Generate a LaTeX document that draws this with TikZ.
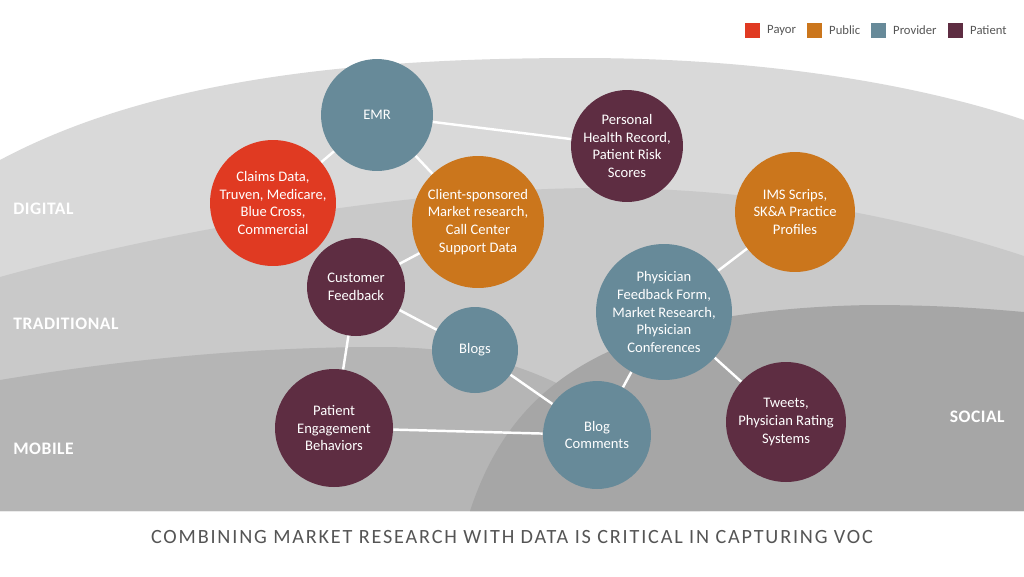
\documentclass[tikz,border=0pt]{standalone}
\usepackage{fontspec}
\setmainfont{Carlito}
\usepackage{xcolor}
\usepackage{tikz}
\usetikzlibrary{positioning}
\definecolor{payorred}{HTML}{E03A22}
\definecolor{publicorange}{HTML}{CB761C}
\definecolor{providerblue}{HTML}{678A99}
\definecolor{patientplum}{HTML}{5E2D42}
\definecolor{digitalgray}{HTML}{D9D9D9}
\definecolor{tradgray}{HTML}{C9C9C9}
\definecolor{mobilegray}{HTML}{B5B5B5}
\definecolor{socialgray}{HTML}{A6A6A6}
\definecolor{inkgray}{HTML}{555555}

\begin{document}
\begin{tikzpicture}[x=0.02cm,y=-0.02cm,
	blob/.style={circle,inner sep=0pt,text=white,align=center,font=\fontsize{8.3}{10.2}\selectfont},
	payor/.style={blob,fill=payorred},
	public/.style={blob,fill=publicorange},
	provider/.style={blob,fill=providerblue},
	patient/.style={blob,fill=patientplum},
	link/.style={white,line width=1.4pt},
	zone/.style={text=white,inner sep=0pt,font=\fontsize{10}{12}\selectfont\bfseries\addfontfeatures{LetterSpace=3}},
	keybox/.style={minimum size=0.3cm,inner sep=0pt},
	keytext/.style={text=inkgray,inner sep=0pt,font=\fontsize{7.2}{8}\selectfont}]
		\useasboundingbox (0,0) rectangle (1024,576);
		\fill[white] (0,0) rectangle (1024,576);
		% layers
		\fill[digitalgray] (0,160) .. controls (150,80) and (350,58) .. (580,58) .. controls (800,58) and (950,95) .. (1024,120) -- (1024,511) -- (0,511) -- cycle;
		\fill[tradgray] (0,277) .. controls (150,235) and (400,188) .. (600,188) .. controls (780,188) and (930,225) .. (1024,256) -- (1024,511) -- (0,511) -- cycle;
		\fill[mobilegray] (0,380) .. controls (120,360) and (250,347) .. (380,347) .. controls (470,347) and (540,365) .. (620,420) -- (700,511) -- (0,511) -- cycle;
		\fill[socialgray] (470,511) .. controls (510,390) and (600,310) .. (870,305) .. controls (950,305) and (1000,310) .. (1024,312) -- (1024,511) -- cycle;
		\node[zone,anchor=west] (digital) at (13,209) {DIGITAL};
		\node[zone,anchor=west] (traditional) at (13,324) {TRADITIONAL};
		\node[zone,anchor=west] (mobile) at (13,449) {MOBILE};
		\node[zone,anchor=east] (social) at (1005,417) {SOCIAL};
		% sources
		\node[provider,minimum size=2.24cm] (emr) at (377,115) {EMR};
		\node[payor,minimum size=2.52cm] (claims) at (273,203) {Claims Data,\\Truven, Medicare,\\Blue Cross,\\Commercial};
		\node[public,minimum size=2.64cm] (client) at (478,222) {Client-sponsored\\Market research,\\Call Center\\Support Data};
		\node[patient,minimum size=2.24cm] (record) at (627,146) {Personal\\Health Record,\\Patient Risk\\Scores};
		\node[public,minimum size=2.4cm] (scrips) at (795,212) {IMS Scrips,\\SK\&A Practice\\Profiles};
		\node[provider,minimum size=2.72cm] (physician) at (664,312) {Physician\\Feedback Form,\\Market Research,\\Physician\\Conferences};
		\node[patient,minimum size=1.96cm] (feedback) at (356,287) {Customer\\Feedback};
		\node[provider,minimum size=1.72cm] (blogs) at (475,350) {Blogs};
		\node[patient,minimum size=2.36cm] (engage) at (334,428) {Patient\\Engagement\\Behaviors};
		\node[provider,minimum size=2.16cm] (comments) at (597,435) {Blog\\Comments};
		\node[patient,minimum size=2.4cm] (tweets) at (786,422) {Tweets,\\Physician Rating\\Systems};
		% links
		\draw[link] (emr) -- (claims);
		\draw[link] (emr) -- (client);
		\draw[link] (emr) -- (record);
		\draw[link] (client) -- (feedback);
		\draw[link] (feedback) -- (blogs);
		\draw[link] (feedback) -- (engage);
		\draw[link] (blogs) -- (comments);
		\draw[link] (engage) -- (comments);
		\draw[link] (comments) -- (physician);
		\draw[link] (physician) -- (scrips);
		\draw[link] (physician) -- (tweets);
		% legend
		\node[keybox,fill=payorred] (kpayor) at (752,30) {};
		\node[keytext,right=4pt of kpayor] (tpayor) {Payor};
		\node[keybox,fill=publicorange] (kpublic) at (814,30) {};
		\node[keytext,right=4pt of kpublic] (tpublic) {Public};
		\node[keybox,fill=providerblue] (kprovider) at (878,30) {};
		\node[keytext,right=4pt of kprovider] (tprovider) {Provider};
		\node[keybox,fill=patientplum] (kpatient) at (955,30) {};
		\node[keytext,right=4pt of kpatient] (tpatient) {Patient};
		\node[text=inkgray,font=\fontsize{11.5}{13}\selectfont\addfontfeatures{LetterSpace=9}] (caption) at (512,537) {COMBINING MARKET RESEARCH WITH DATA IS CRITICAL IN CAPTURING VOC};
	\end{tikzpicture}
\end{document}
